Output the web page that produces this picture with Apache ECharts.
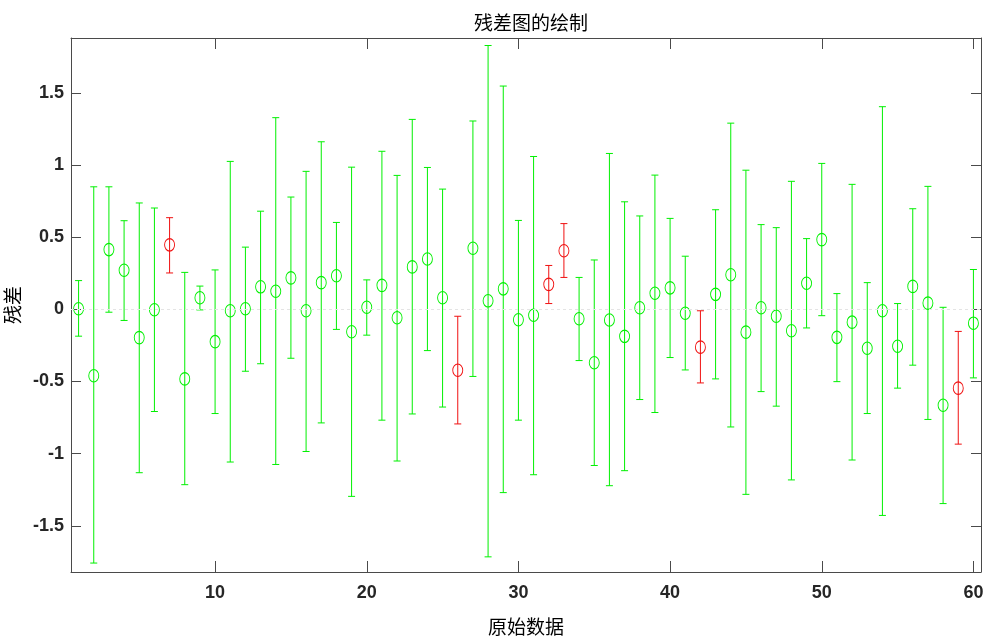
<!DOCTYPE html>
<html>
<head>
<meta charset="utf-8">
<script src="https://cdn.jsdelivr.net/npm/echarts@6/dist/echarts.min.js"></script>
<style>
  html, body { margin: 0; padding: 0; background: #fff; }
  #chart { width: 984px; height: 641px; }
</style>
</head>
<body>
<div id="chart"></div>
<script>
// Residuals with their confidence intervals, one per observation
const residual = [
  0.004, -0.460, 0.414, 0.271, -0.196, -0.003, 0.447, -0.482, 0.080, -0.224,
  -0.010, 0.004, 0.156, 0.125, 0.218, -0.010, 0.185, 0.233, -0.155, 0.014,
  0.166, -0.058, 0.294, 0.349, 0.080, -0.422, 0.423, 0.059, 0.142, -0.072,
  -0.041, 0.173, 0.406, -0.065, -0.370, -0.074, -0.187, 0.011, 0.111, 0.149,
  -0.027, -0.262, 0.104, 0.240, -0.158, 0.011, -0.048, -0.148, 0.181, 0.483,
  -0.194, -0.089, -0.270, -0.010, -0.256, 0.159, 0.043, -0.665, -0.546, -0.096
];
const lower = [
  -0.186, -1.758, -0.020, -0.077, -1.132, -0.708, 0.252, -1.215, -0.004, -0.722,
  -1.058, -0.429, -0.377, -1.075, -0.339, -0.985, -0.787, -0.139, -1.296, -0.179,
  -0.768, -1.051, -0.725, -0.286, -0.677, -0.794, -0.465, -1.715, -1.270, -0.768,
  -1.146, 0.040, 0.221, -0.355, -1.082, -1.222, -1.118, -0.625, -0.715, -0.334,
  -0.420, -0.510, -0.482, -0.815, -1.282, -0.570, -0.671, -1.182, -0.129, -0.044,
  -0.501, -1.044, -0.722, -1.428, -0.546, -0.387, -0.763, -1.346, -0.934, -0.475
];
const upper = [
  0.199, 0.849, 0.849, 0.614, 0.737, 0.702, 0.635, 0.256, 0.161, 0.273,
  1.025, 0.431, 0.680, 1.328, 0.778, 0.956, 1.161, 0.602, 0.985, 0.204,
  1.095, 0.928, 1.316, 0.983, 0.833, -0.048, 1.305, 1.828, 1.547, 0.616,
  1.059, 0.304, 0.594, 0.221, 0.342, 1.080, 0.745, 0.647, 0.930, 0.630,
  0.368, -0.010, 0.690, 1.290, 0.964, 0.587, 0.566, 0.887, 0.490, 1.011,
  0.109, 0.866, 0.185, 1.404, 0.040, 0.697, 0.852, 0.014, -0.153, 0.276
];
const xTicks = [10, 20, 30, 40, 50, 60];
const yTicks = [-1.5, -1, -0.5, 0, 0.5, 1, 1.5];

const GREEN = '#00f000';
const RED = '#f01010';
const AXIS = '#4a4a4a';
const TICK_FONT = { fontFamily: 'Liberation Sans, Arial, sans-serif', fontSize: 18, fontWeight: 'bold', color: '#262626' };

// An interval that misses zero marks an outlier
const isOutlier = i => lower[i] > 0 || upper[i] < 0;

const barData = residual.map((r, i) => [i + 1, lower[i], upper[i], isOutlier(i) ? 1 : 0]);
const pointData = residual.map((r, i) => ({
  value: [i + 1, r],
  itemStyle: { borderColor: isOutlier(i) ? RED : GREEN }
}));

const xRange = { min: 0.5, max: 60.5 };
const yRange = { min: -1.82, max: 1.88 };

const chart = echarts.init(document.getElementById('chart'), null, { renderer: 'canvas' });
chart.setOption({
  animation: false,
  backgroundColor: '#fff',
  title: {
    text: '残差图的绘制',
    left: 526, top: 8, textAlign: 'center',
    textStyle: { fontFamily: 'Noto Sans CJK SC', fontSize: 19, fontWeight: 'normal', color: '#000' }
  },
  grid: { left: 71, right: 3, top: 38, bottom: 69, containLabel: false, outerBoundsMode: 'none' },
  xAxis: [{
    type: 'value', ...xRange, position: 'bottom',
    name: '原始数据', nameLocation: 'middle', nameGap: 45,
    nameTextStyle: { fontFamily: 'Noto Sans CJK SC', fontSize: 19, color: '#000' },
    axisLine: { show: true, onZero: false, lineStyle: { color: AXIS, width: 1 } },
    axisTick: { show: true, inside: true, length: 11, customValues: xTicks, lineStyle: { color: AXIS } },
    axisLabel: { ...TICK_FONT, margin: 12, customValues: xTicks },
    splitLine: { show: false }
  }, {
    type: 'value', ...xRange, position: 'top',
    axisLine: { show: true, onZero: false, lineStyle: { color: AXIS, width: 1 } },
    axisTick: { show: true, inside: true, length: 11, customValues: xTicks, lineStyle: { color: AXIS } },
    axisLabel: { show: false },
    splitLine: { show: false }
  }],
  yAxis: [{
    type: 'value', ...yRange, position: 'left',
    name: '残差', nameLocation: 'middle', nameGap: 36, nameRotate: 90,
    nameTextStyle: { fontFamily: 'Noto Sans CJK SC', fontSize: 19, color: '#000' },
    axisLine: { show: true, onZero: false, lineStyle: { color: AXIS, width: 1 } },
    axisTick: { show: true, inside: true, length: 10, customValues: yTicks, lineStyle: { color: AXIS } },
    axisLabel: { ...TICK_FONT, margin: 7, customValues: yTicks },
    splitLine: { show: false }
  }, {
    type: 'value', ...yRange, position: 'right',
    axisLine: { show: true, onZero: false, lineStyle: { color: AXIS, width: 1 } },
    axisTick: { show: true, inside: true, length: 10, customValues: yTicks, lineStyle: { color: AXIS } },
    axisLabel: { show: false },
    splitLine: { show: false }
  }],
  series: [{
    // residual markers: open ellipses
    type: 'scatter',
    xAxisIndex: 0, yAxisIndex: 0,
    symbol: 'circle',
    symbolSize: [10, 12.5],
    itemStyle: { color: 'rgba(0,0,0,0)', borderWidth: 1, opacity: 1 },
    data: pointData,
    z: 2
  }, {
    // confidence interval bars with end caps
    type: 'custom',
    xAxisIndex: 0, yAxisIndex: 0,
    data: barData,
    encode: { x: 0, y: [1, 2] },
    renderItem: function (params, api) {
      const x = api.value(0);
      const lo = api.coord([x, api.value(1)]);
      const hi = api.coord([x, api.value(2)]);
      const color = api.value(3) ? RED : GREEN;
      const cap = 3.5;
      const style = { stroke: color, lineWidth: 1, fill: null };
      return {
        type: 'group',
        children: [
          { type: 'line', shape: { x1: lo[0], y1: lo[1], x2: hi[0], y2: hi[1] }, style },
          { type: 'line', shape: { x1: lo[0] - cap, y1: lo[1], x2: lo[0] + cap, y2: lo[1] }, style },
          { type: 'line', shape: { x1: hi[0] - cap, y1: hi[1], x2: hi[0] + cap, y2: hi[1] }, style }
        ]
      };
    },
    z: 3
  }, {
    // zero reference line
    type: 'line',
    xAxisIndex: 0, yAxisIndex: 0,
    data: [],
    silent: true,
    markLine: {
      silent: true,
      symbol: ['none', 'none'],
      label: { show: false },
      lineStyle: { color: '#e4e4e4', type: [3, 3], width: 1 },
      data: [{ yAxis: 0 }]
    },
    z: 5
  }]
});
</script>
</body>
</html>
